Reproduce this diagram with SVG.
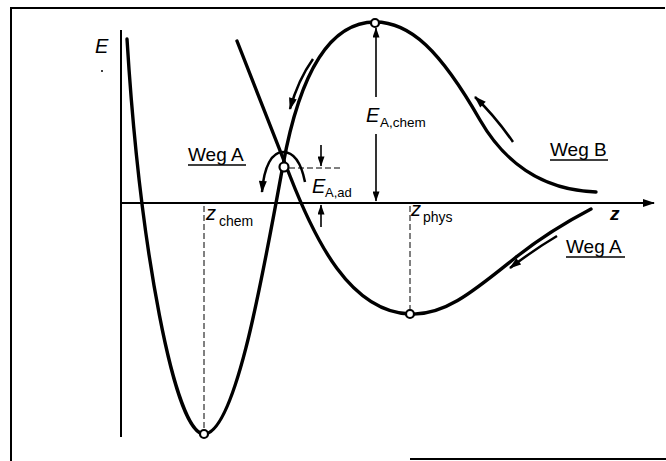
<svg xmlns="http://www.w3.org/2000/svg" width="666" height="461" viewBox="0 0 666 461">
  <style>
    .frame { stroke: #000; stroke-width: 2; fill: none; }
    .axis { stroke: #000; stroke-width: 2; fill: none; }
    .curve { stroke: #000; stroke-width: 3.4; fill: none; stroke-linecap: round; stroke-linejoin: round; }
    .arr { stroke: #000; stroke-width: 2.5; fill: none; }
    .thin { stroke: #000; stroke-width: 1.6; fill: none; }
    .dash { stroke: #000; stroke-width: 1; fill: none; stroke-dasharray: 6 3; }
    .pt { fill: #fff; stroke: #000; stroke-width: 2.2; }
    .lbl { font-family: "Liberation Sans", Arial, sans-serif; fill: #000; }
    .it { font-style: italic; }
    .ul { stroke: #000; stroke-width: 1.6; }
  </style>
  <defs>
    <marker id="ah" viewBox="0 0 12 8" refX="11" refY="4" markerWidth="13" markerHeight="8" markerUnits="userSpaceOnUse" orient="auto-start-reverse">
      <path d="M0,0 L12,4 L0,8 Z" fill="#000"/>
    </marker>
    <marker id="ahs" viewBox="0 0 10 7" refX="9.5" refY="3.5" markerWidth="11" markerHeight="7" markerUnits="userSpaceOnUse" orient="auto-start-reverse">
      <path d="M0,0 L10,3.5 L0,7 Z" fill="#000"/>
    </marker>
  </defs>

  <rect width="666" height="461" fill="#fff"/>

  <g id="frame">
    <line class="frame" x1="10" y1="8" x2="665" y2="8"/>
    <line class="frame" x1="11" y1="8" x2="11" y2="461"/>
    <line class="frame" x1="410" y1="459" x2="666" y2="459"/>
  </g>

  <g id="axes">
    <line class="axis" x1="121" y1="30" x2="121" y2="437"/>
    <line class="axis" x1="121" y1="203" x2="654" y2="203" marker-end="url(#ah)"/>
    <text class="lbl it" x="95" y="53" font-size="20">E</text>
    <circle cx="102" cy="71" r="1" fill="#000"/>
    <text class="lbl it" x="610" y="220" font-size="19" font-weight="bold">z</text>
  </g>

  <g id="guides">
    <line class="dash" x1="204" y1="206" x2="204" y2="430"/>
    <line class="dash" x1="410" y1="206" x2="410" y2="310"/>
    <line class="dash" x1="289" y1="168" x2="340" y2="168"/>
  </g>

  <g id="connectors">
    <path id="curve-chem" class="curve" d="M127,39 C140,250 175,434 204,434 C235,434 262,280 283,165 C300,72 330,22 375,22 C410,22 440,50 480,120 C503,160 540,190 596,192"/>
    <path id="curve-phys" class="curve" d="M237,41 L290,176 C315,240 350,312 410,314 C445,316 475,290 515,258 C545,234 570,220 591,209"/>
    <path class="arr" d="M313,59 Q298,80 290,109" marker-end="url(#ah)"/>
    <path class="arr" d="M513,142 Q495,116 475,97" marker-end="url(#ah)"/>
    <path class="arr" d="M557,236 Q535,249 510,268" marker-end="url(#ah)"/>
    <path class="arr" d="M305,182 C301,162 293,152 283,152 C272,152 264,166 262,192" marker-end="url(#ah)"/>
    <line class="thin" x1="376" y1="97" x2="376" y2="28" marker-end="url(#ahs)"/>
    <line class="thin" x1="376" y1="134" x2="376" y2="201" marker-end="url(#ahs)"/>
    <line class="thin" x1="321" y1="145" x2="321" y2="166" marker-end="url(#ahs)"/>
    <line class="thin" x1="321" y1="227" x2="321" y2="205" marker-end="url(#ahs)"/>
  </g>

  <g id="points">
    <circle class="pt" cx="375" cy="23" r="4"/>
    <circle class="pt" cx="284" cy="167" r="4.5"/>
    <circle class="pt" cx="204" cy="434" r="4"/>
    <circle class="pt" cx="410" cy="314" r="4"/>
  </g>

  <g id="labels">
    <text class="lbl" x="188" y="161" font-size="19">Weg A</text>
    <line class="ul" x1="188" y1="165" x2="246" y2="165"/>
    <text class="lbl" x="550" y="156" font-size="19">Weg B</text>
    <line class="ul" x1="550" y1="160" x2="608" y2="160"/>
    <text class="lbl" x="566" y="253" font-size="19">Weg A</text>
    <line class="ul" x1="566" y1="257" x2="625" y2="257"/>

    <text class="lbl it" x="366" y="122" font-size="20">E</text>
    <text class="lbl" x="380" y="127" font-size="13.5">A,chem</text>

    <text class="lbl it" x="312" y="193" font-size="20">E</text>
    <text class="lbl" x="325" y="197" font-size="13">A,ad</text>

    <text class="lbl it" x="206" y="220" font-size="20">z</text>
    <text class="lbl" x="219" y="226" font-size="14">chem</text>

    <text class="lbl it" x="411" y="216" font-size="20">z</text>
    <text class="lbl" x="423" y="222" font-size="14">phys</text>
  </g>
</svg>
